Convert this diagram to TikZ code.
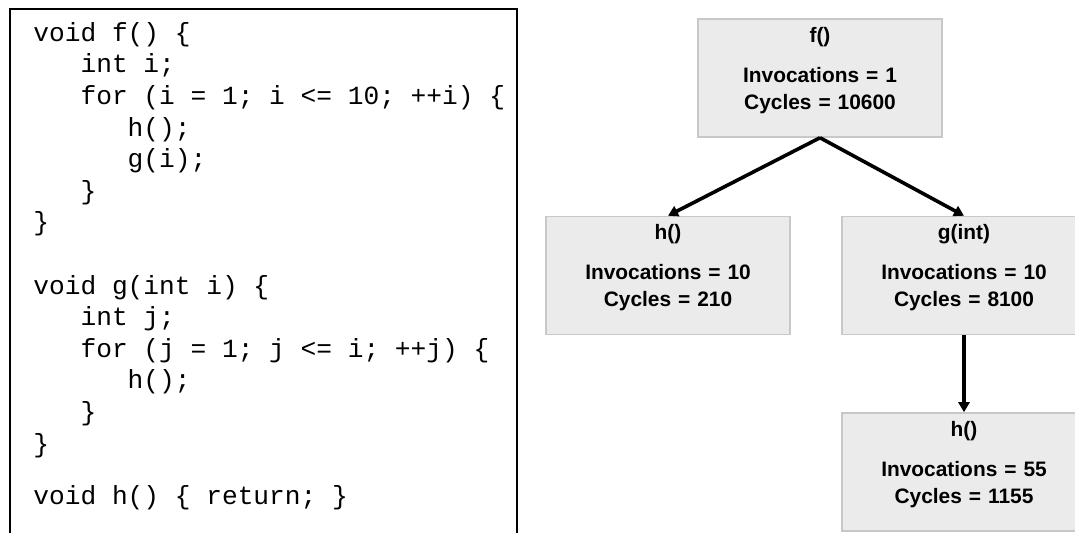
\documentclass[tikz,border=0pt]{standalone}
\usepackage{fontspec}
\setmainfont{Liberation Sans}
\setmonofont{Liberation Mono}
\usepackage{tikz}
\usetikzlibrary{arrows.meta,positioning}

\definecolor{boxgray}{RGB}{235,235,235}
\definecolor{edgegray}{RGB}{200,200,200}
\newcommand{\cind}{\phantom{xxx}}

\begin{document}
\begin{tikzpicture}[
    x=0.5pt, y=-0.5pt,
    callbox/.style={rectangle, draw=edgegray, fill=boxgray, line width=0.75pt, text width=122pt, inner xsep=0pt, inner ysep=0pt, align=center, text height=11.75pt, text depth=47.25pt, font=\fontsize{10.45}{13.5}\selectfont\bfseries},
    call/.style={-{Triangle[length=5pt, width=5.5pt]}, line width=1.8pt},
    code/.style={align=left, inner sep=0pt, font=\fontsize{13.1}{15.8}\selectfont\ttfamily},
]
    \useasboundingbox (0,0) rectangle (1075,533);
    \clip (0,0) rectangle (1075,533);

    % source listing
    \draw[line width=1.35pt] (10,540) |- (517,9) -- (517,540);
    \node[code, anchor=north west] (src) at (33,22) {void f() \{\\
        \cind int i;\\
        \cind for (i = 1; i <= 10; ++i) \{\\
        \cind\cind h();\\
        \cind\cind g(i);\\
        \cind \}\\
        \}\\[15.8pt]
        void g(int i) \{\\
        \cind int j;\\
        \cind for (j = 1; j <= i; ++j) \{\\
        \cind\cind h();\\
        \cind \}\\
        \}\\[10.2pt]
        void h() \{ return; \}};

    % call graph
    \node[callbox] (f) at (820,78) {f()\\[6.5pt]Invocations = 1\\Cycles = 10600};
    \node[callbox, below=39pt of f, xshift=-76pt] (hf) {h()\\[6.5pt]Invocations = 10\\Cycles = 210};
    \node[callbox, below=39pt of f, xshift=72pt] (g) {g(int)\\[6.5pt]Invocations = 10\\Cycles = 8100};
    \node[callbox, below=38.5pt of g] (hg) {h()\\[6.5pt]Invocations = 55\\Cycles = 1155};

    \draw[call] (f.south) -- (hf.north);
    \draw[call] (f.south) -- (g.north);
    \draw[call] (g.south) -- (hg.north);
\end{tikzpicture}
\end{document}
